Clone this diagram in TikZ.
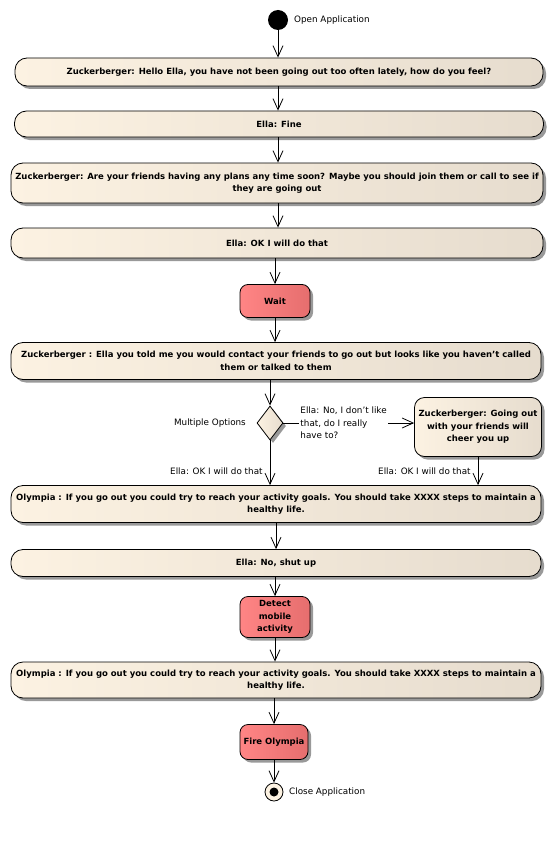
\documentclass[tikz,border=0pt]{standalone}
\usepackage{fontspec}
\setmainfont{DejaVu Sans}
\usetikzlibrary{arrows.meta,shapes.geometric,shadows}
\definecolor{creamL}{HTML}{FCF2E2}
\definecolor{creamR}{HTML}{E6DCCE}
\definecolor{redL}{HTML}{FF8585}
\definecolor{redR}{HTML}{E66E6E}
\tikzset{
  talk/.style={draw, line width=0.8pt, rounded corners=12, inner sep=1pt, align=center,
    left color=creamL, right color=creamR, font=\fontsize{8.5}{12.5}\selectfont\bfseries,
    drop shadow={shadow xshift=3pt, shadow yshift=-3pt, fill=black!40, opacity=1}},
  act/.style={talk, rounded corners=8, left color=redL, right color=redR},
  pick/.style={draw, line width=0.8pt, diamond, inner sep=0, minimum width=26, minimum height=34,
    left color=creamL, right color=creamR,
    drop shadow={shadow xshift=3pt, shadow yshift=-3pt, fill=black!40, opacity=1}},
  lbl/.style={font=\fontsize{8.8}{12.5}\selectfont, inner sep=1pt},
  flow/.style={line width=0.8pt, -{Straight Barb[length=11pt,width=10pt]}},
}
\begin{document}
\begin{tikzpicture}[x=1pt, y=-1pt]
  \useasboundingbox (0,0) rectangle (553,848);
  % start and end
  \node[circle, fill=black, minimum size=20, inner sep=0] (start) at (278,20) {};
  \node[lbl, anchor=west] (open) at (293,20) {Open Application};
  % dialogue
  \node[talk, minimum width=528, minimum height=28] (z1) at (279,72)
    {Zuckerberger: Hello Ella, you have not been going out too often lately, how do you feel?};
  \node[talk, minimum width=529, minimum height=26] (z2) at (279,124) {Ella: Fine};
  \node[talk, minimum width=532, minimum height=40] (z3) at (277,183)
    {Zuckerberger: Are your friends having any plans any time soon? Maybe you should join them or call to see if\\they are going out};
  \node[talk, minimum width=532, minimum height=30] (z4) at (277,243) {Ella: OK I will do that};
  \node[act, minimum width=70, minimum height=33] (wait) at (275,301) {Wait};
  \node[talk, minimum width=530, minimum height=37] (z5) at (276,361)
    {Zuckerberger : Ella you told me you would contact your friends to go out but looks like you haven't called\\them or talked to them};
  \node[pick] (dec) at (270,423) {};
  \node[lbl, anchor=east] (multi) at (247,423) {Multiple Options};
  \node[talk, minimum width=127, minimum height=59, rounded corners=10] (z6) at (478,427)
    {Zuckerberger: Going out\\with your friends will\\cheer you up};
  \node[talk, minimum width=530, minimum height=37] (z7) at (276,504)
    {Olympia : If you go out you could try to reach your activity goals. You should take XXXX steps to maintain a\\healthy life.};
  \node[talk, minimum width=530, minimum height=27] (z8) at (276,563) {Ella: No, shut up};
  \node[act, minimum width=70, minimum height=41] (detect) at (275,617) {Detect\\mobile\\activity};
  \node[talk, minimum width=530, minimum height=36] (z9) at (276,680)
    {Olympia : If you go out you could try to reach your activity goals. You should take XXXX steps to maintain a\\healthy life.};
  \node[act, minimum width=68, minimum height=35] (fire) at (274,742) {Fire Olympia};
  \node[circle, draw, line width=0.8pt, fill=creamL, minimum size=18, inner sep=0] (end) at (274,792) {};
  \fill (end) circle (4.5);
  \node[lbl, anchor=west] (close) at (288,792) {Close Application};
  % flows
  \begin{scope}[flow]
    \draw (start) -- (start |- z1.north);
    \draw (z1.south -| start) -- (start |- z2.north);
    \draw (z2.south -| start) -- (start |- z3.north);
    \draw (z3.south -| start) -- (start |- z4.north);
    \draw (z4.south -| wait) -- (wait);
    \draw (wait) -- (wait |- z5.north);
    \draw (z5.south -| dec) -- (dec);
    \draw (dec.east) -- (dec.east -| z6.west)
      node[lbl, pos=0.12, anchor=west, align=left, fill=white] (no) {Ella: No, I don't like\\that, do I really\\have to?};
    \draw (dec) -- (dec |- z7.north)
      node[lbl, pos=0.7, anchor=east, xshift=-6pt] (ok1) {Ella: OK I will do that};
    \draw (z6) -- (z6 |- z7.north)
      node[lbl, pos=0.5, anchor=east, xshift=-6pt] (ok2) {Ella: OK I will do that};
    \draw (z7) -- (z8);
    \draw (z8.south -| detect) -- (detect);
    \draw (detect) -- (detect |- z9.north);
    \draw (z9.south -| fire) -- (fire);
    \draw (fire) -- (end);
  \end{scope}
\end{tikzpicture}
\end{document}
